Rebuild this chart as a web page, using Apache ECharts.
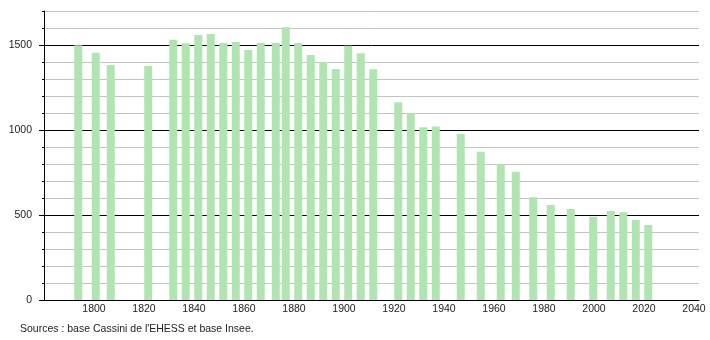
<!DOCTYPE html>
<html>
<head>
<meta charset="utf-8">
<script src="https://cdn.jsdelivr.net/npm/echarts@6/dist/echarts.min.js"></script>
<style>
html,body{margin:0;padding:0;background:#fff;}
#chart{width:710px;height:340px;}
</style>
</head>
<body>
<div id="chart"></div>
<script>
const years = [1793, 1800, 1806, 1821, 1831, 1836, 1841, 1846, 1851, 1856, 1861, 1866, 1872, 1876, 1881, 1886, 1891, 1896, 1901, 1906, 1911, 1921, 1926, 1931, 1936, 1946, 1954, 1962, 1968, 1975, 1982, 1990, 1999, 2006, 2011, 2016, 2021];
const population = [1498, 1455, 1382, 1376, 1531, 1510, 1559, 1565, 1512, 1518, 1471, 1512, 1512, 1605, 1512, 1441, 1400, 1359, 1495, 1451, 1357, 1163, 1098, 1016, 1020, 976, 872, 798, 755, 604, 559, 535, 490, 524, 516, 471, 441];
const sourceText = "Sources : base Cassini de l'EHESS et base Insee.";

const chart = echarts.init(document.getElementById('chart'), null, {renderer: 'canvas'});
const font = 'Liberation Sans, Arial, sans-serif';
chart.setOption({
  animation: false,
  backgroundColor: '#fff',
  grid: {left: 44, right: 11, top: 11, bottom: 40, containLabel: false},
  xAxis: [
    {
      type: 'value', min: 1780, max: 2042, interval: 20,
      axisLine: {show: true, onZero: false, lineStyle: {color: '#000', width: 1}},
      axisTick: {show: false},
      splitLine: {show: false},
      axisLabel: {
        margin: 4, fontSize: 10.5, fontFamily: font, color: '#222',
        showMinLabel: false, showMaxLabel: false,
        formatter: v => (v % 20 === 0 && v >= 1800 && v <= 2040) ? String(v) : ''
      }
    },
    {
      type: 'value', min: 1779.3, max: 2041.3, show: false
    }
  ],
  yAxis: [
    {
      type: 'value', min: 0, max: 1700, interval: 100,
      axisLine: {show: true, lineStyle: {color: '#000', width: 1}},
      axisTick: {show: true, length: 2, lineStyle: {color: '#000'}},
      axisLabel: {show: false},
      splitLine: {show: true, lineStyle: {color: ['#000', '#c4c4c4', '#c4c4c4', '#c4c4c4', '#c4c4c4'], width: 1}}
    },
    {
      type: 'value', min: 0, max: 1700, interval: 500, position: 'left',
      axisLine: {show: false},
      axisTick: {show: true, length: 5, lineStyle: {color: '#000'}},
      splitLine: {show: false},
      axisLabel: {
        margin: 12, fontSize: 10.5, fontFamily: font, color: '#222',
        showMaxLabel: false,
        formatter: v => (v % 500 === 0) ? String(v) : ''
      }
    }
  ],
  series: [{
    type: 'bar',
    xAxisIndex: 1,
    yAxisIndex: 0,
    barWidth: 8,
    itemStyle: {color: 'rgb(176,228,176)'},
    data: years.map((y, i) => [y, population[i]])
  }],
  graphic: [{
    type: 'text', left: 20, top: 324,
    style: {text: sourceText, fontSize: 10.5, fontFamily: font, fill: '#222'}
  }]
});
</script>
</body>
</html>
